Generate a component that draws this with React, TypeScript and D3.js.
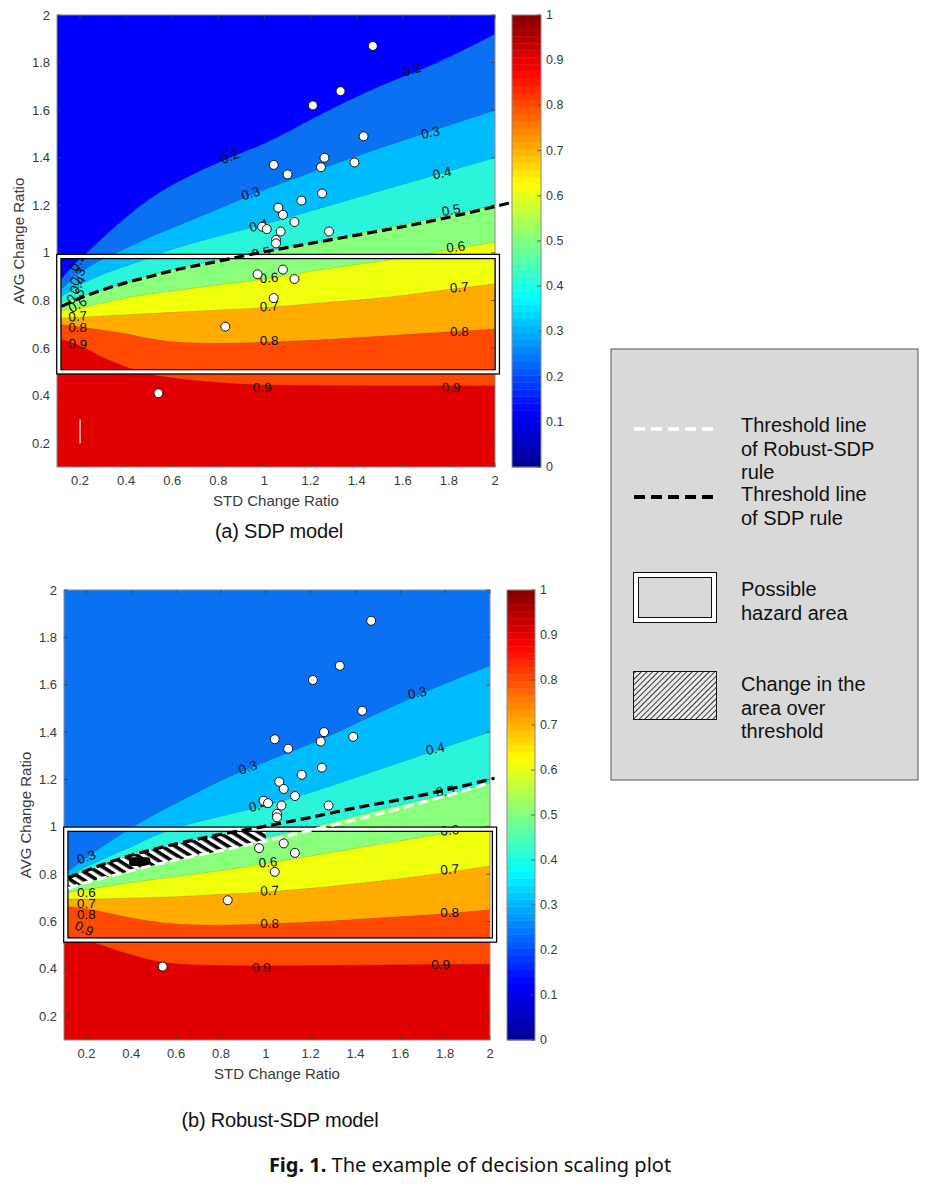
import React from 'react';
import * as d3 from 'd3';

type Pt = [number, number];

// ---- axes ----
const axisTicks = [0.2, 0.4, 0.6, 0.8, 1, 1.2, 1.4, 1.6, 1.8, 2];
const colorbarTicks = [0, 0.1, 0.2, 0.3, 0.4, 0.5, 0.6, 0.7, 0.8, 0.9, 1];

// jet colormap anchors (for the colorbar)
const jetStops = [0, 0.125, 0.375, 0.625, 0.875, 1];
const jetColors = ['#00008f', '#0000ff', '#00ffff', '#ffff00', '#ff0000', '#800000'];

// filled-contour band colours, band [level, level + 0.1]
const bandLevels = [0.1, 0.2, 0.3, 0.4, 0.5, 0.6, 0.7, 0.8, 0.9];
const bandColors = ['#0000ff', '#0a72f2', '#00bcff', '#2af5da', '#8aff7c', '#f0ff0a', '#ffab00', '#ff4800', '#e00000'];

// ---- (a) SDP model: contour boundaries ----
const sdpContours: [number, Pt[]][] = [
  [0.2, [[0.1, 0.87], [0.15, 0.925], [0.2, 0.975], [0.25, 1.02], [0.3, 1.065], [0.4, 1.15], [0.5, 1.225], [0.6, 1.285], [0.7, 1.335], [0.85, 1.4], [1.0, 1.46], [1.25, 1.585], [1.5, 1.7], [1.75, 1.8], [2.0, 1.92]]],
  [0.3, [[0.1, 0.83], [0.15, 0.875], [0.2, 0.915], [0.3, 0.975], [0.4, 1.02], [0.5, 1.065], [0.6, 1.105], [0.8, 1.185], [1.0, 1.265], [1.25, 1.355], [1.5, 1.44], [1.75, 1.52], [2.0, 1.6]]],
  [0.4, [[0.1, 0.805], [0.15, 0.835], [0.2, 0.865], [0.3, 0.91], [0.4, 0.945], [0.5, 0.98], [0.6, 1.015], [0.8, 1.07], [1.0, 1.12], [1.25, 1.19], [1.5, 1.26], [1.75, 1.33], [2.0, 1.4]]],
  [0.5, [[0.1, 0.785], [0.2, 0.815], [0.3, 0.845], [0.4, 0.875], [0.5, 0.905], [0.6, 0.93], [0.8, 0.97], [1.0, 1.005], [1.25, 1.05], [1.5, 1.1], [1.75, 1.15], [2.0, 1.2]]],
  [0.6, [[0.1, 0.755], [0.2, 0.77], [0.3, 0.79], [0.4, 0.81], [0.6, 0.84], [0.8, 0.865], [1.0, 0.89], [1.25, 0.93], [1.5, 0.965], [1.75, 1.005], [2.0, 1.045]]],
  [0.7, [[0.1, 0.725], [0.2, 0.73], [0.4, 0.74], [0.6, 0.75], [0.8, 0.76], [1.0, 0.77], [1.25, 0.79], [1.5, 0.81], [1.75, 0.84], [2.0, 0.87]]],
  [0.8, [[0.1, 0.7], [0.2, 0.69], [0.3, 0.675], [0.4, 0.66], [0.5, 0.64], [0.6, 0.627], [0.8, 0.62], [1.0, 0.625], [1.25, 0.635], [1.5, 0.65], [1.75, 0.665], [2.0, 0.68]]],
  [0.9, [[0.1, 0.64], [0.2, 0.61], [0.3, 0.56], [0.4, 0.52], [0.5, 0.49], [0.6, 0.475], [0.8, 0.455], [1.0, 0.445], [1.5, 0.442], [2.0, 0.442]]],
];

// ---- (b) Robust-SDP model ----
const robustContours: [number, Pt[]][] = [
  [0.3, [[0.1, 0.8], [0.15, 0.835], [0.2, 0.87], [0.3, 0.935], [0.4, 0.995], [0.5, 1.05], [0.6, 1.1], [0.8, 1.195], [1.0, 1.275], [1.25, 1.37], [1.5, 1.48], [1.75, 1.585], [2.0, 1.68]]],
  [0.4, [[0.1, 0.78], [0.2, 0.83], [0.3, 0.875], [0.4, 0.915], [0.5, 0.96], [0.6, 0.995], [0.8, 1.045], [1.0, 1.09], [1.25, 1.16], [1.5, 1.24], [1.75, 1.32], [2.0, 1.4]]],
  [0.5, [[0.1, 0.755], [0.2, 0.785], [0.4, 0.835], [0.6, 0.875], [0.8, 0.915], [1.0, 0.955], [1.25, 1.01], [1.5, 1.07], [1.75, 1.125], [2.0, 1.185]]],
  [0.6, [[0.1, 0.72], [0.2, 0.735], [0.4, 0.765], [0.6, 0.79], [0.8, 0.815], [1.0, 0.845], [1.25, 0.885], [1.5, 0.925], [1.75, 0.965], [2.0, 1.005]]],
  [0.7, [[0.1, 0.695], [0.2, 0.695], [0.4, 0.7], [0.6, 0.705], [0.8, 0.715], [1.0, 0.725], [1.25, 0.745], [1.5, 0.77], [1.75, 0.8], [2.0, 0.835]]],
  [0.8, [[0.1, 0.665], [0.2, 0.655], [0.3, 0.635], [0.4, 0.615], [0.5, 0.6], [0.6, 0.59], [0.8, 0.585], [1.0, 0.59], [1.25, 0.6], [1.5, 0.615], [1.75, 0.63], [2.0, 0.65]]],
  [0.9, [[0.1, 0.54], [0.2, 0.52], [0.3, 0.49], [0.4, 0.46], [0.5, 0.435], [0.6, 0.422], [0.8, 0.415], [1.0, 0.413], [1.5, 0.417], [2.0, 0.42]]],
];

// observed (STD ratio, AVG ratio) points, same in both panels
const climatePoints: Pt[] = [
  [1.47, 1.87], [1.33, 1.68], [1.21, 1.62], [1.43, 1.49], [1.26, 1.4], [1.04, 1.37], [1.245, 1.36],
  [1.39, 1.38], [1.1, 1.33], [1.25, 1.25], [1.16, 1.22], [1.06, 1.19], [1.08, 1.16], [1.13, 1.13],
  [0.99, 1.11], [1.01, 1.1], [1.07, 1.09], [1.28, 1.09], [1.05, 1.055], [1.05, 1.04], [0.97, 0.91],
  [1.08, 0.93], [1.13, 0.89], [1.04, 0.81], [0.83, 0.69], [0.54, 0.41],
];

// threshold lines
const sdpThresholdA: Pt[] = [[0.12, 0.775], [0.2, 0.81], [0.3, 0.845], [0.4, 0.875], [0.5, 0.9], [0.6, 0.925], [0.8, 0.965], [1.0, 1.005], [1.2, 1.04], [1.4, 1.075], [1.6, 1.11], [1.8, 1.15], [2.0, 1.195], [2.07, 1.212]];
const sdpThresholdB: Pt[] = [[0.12, 0.785], [0.2, 0.815], [0.3, 0.85], [0.4, 0.88], [0.5, 0.905], [0.6, 0.928], [0.8, 0.968], [1.0, 1.003], [1.2, 1.04], [1.4, 1.08], [1.6, 1.115], [1.8, 1.155], [2.02, 1.205]];
const robustThreshold: Pt[] = [[0.12, 0.74], [0.2, 0.765], [0.3, 0.79], [0.4, 0.815], [0.5, 0.838], [0.6, 0.86], [0.8, 0.9], [1.0, 0.94], [1.2, 0.985], [1.4, 1.03], [1.6, 1.078], [1.8, 1.13], [2.0, 1.185]];
const hatchLimit: [number, number] = [1.12, 1.06]; // x where hatching stops on black / white line
const blackBlob = [0.39, 0.485, 0.835, 0.872]; // x0, x1, y0, y1

// hazard boxes: x0, x1, y0, y1
const hazardA = [0.108, 2.01, 0.5, 0.985];
const hazardB = [0.108, 2.02, 0.522, 0.99];

// contour labels: text, x, y, rotation
type Lab = [string, number, number, number];
const sdpLabels: Lab[] = [
  ['0.2', 1.64, 1.77, -17], ['0.2', 0.85, 1.405, -22], ['0.3', 1.72, 1.505, -12], ['0.3', 0.94, 1.25, -17],
  ['0.4', 1.77, 1.335, -12], ['0.4', 0.975, 1.115, -15], ['0.5', 1.81, 1.18, -10], ['0.5', 0.985, 1.0, -10],
  ['0.6', 1.83, 1.025, -8], ['0.6', 1.02, 0.895, -5], ['0.7', 1.845, 0.855, -5], ['0.7', 1.02, 0.775, -3],
  ['0.8', 1.845, 0.67, 0], ['0.8', 1.02, 0.63, 0], ['0.9', 0.99, 0.435, 0], ['0.9', 1.81, 0.435, 0],
  ['0.2', 0.19, 0.96, -65], ['0.3', 0.19, 0.9, -60], ['0.4', 0.19, 0.865, -60], ['0.5', 0.18, 0.82, -40],
  ['0.6', 0.19, 0.782, -30], ['0.7', 0.19, 0.733, -5], ['0.8', 0.19, 0.688, 0], ['0.9', 0.19, 0.617, 5],
];
const robustLabels: Lab[] = [
  ['0.3', 1.676, 1.565, -12], ['0.3', 0.92, 1.25, -20], ['0.4', 1.756, 1.33, -12], ['0.4', 0.966, 1.09, -15],
  ['0.5', 1.8, 1.15, -8], ['0.6', 1.82, 0.985, -5], ['0.6', 1.01, 0.85, -5], ['0.7', 1.82, 0.82, -5],
  ['0.7', 1.017, 0.73, -3], ['0.8', 1.82, 0.638, 0], ['0.8', 1.017, 0.59, 0], ['0.9', 0.98, 0.405, 0],
  ['0.9', 1.78, 0.42, 0], ['0.3', 0.2, 0.872, -20], ['0.6', 0.2, 0.724, 0], ['0.7', 0.2, 0.678, 0],
  ['0.8', 0.2, 0.63, 0], ['0.9', 0.19, 0.57, 25],
];

const FONT = 'Liberation Sans, Arial, Helvetica, sans-serif';

interface Frame { left: number; top: number; right: number; bottom: number; cbarX: number; cbarW: number; }

interface PanelProps {
  id: string;
  frame: Frame;
  contours: [number, Pt[]][];
  labels: Lab[];
  blackLine: Pt[];
  whiteLine?: Pt[];
  hazard: number[];
  caption: string;
  captionY: number;
  yTitleX: number;
  artifact?: boolean;
}

function Panel({ id, frame, contours, labels, blackLine, whiteLine, hazard, caption, captionY, yTitleX, artifact }: PanelProps) {
  const x = d3.scaleLinear().domain([0.1, 2]).range([frame.left, frame.right]);
  const y = d3.scaleLinear().domain([0.1, 2]).range([frame.bottom, frame.top]);
  const cy = d3.scaleLinear().domain([0, 1]).range([frame.bottom, frame.top]);
  const jet = d3.scaleLinear<string>().domain(jetStops).range(jetColors).interpolate(d3.interpolateRgb);
  const bandColor = (lv: number) => bandColors[bandLevels.findIndex(b => Math.abs(b - lv) < 1e-6)];

  const area = d3.area<Pt>().x(d => x(d[0])).y0(y(0)).y1(d => y(d[1])).curve(d3.curveMonotoneX);
  const line = d3.line<Pt>().x(d => x(d[0])).y(d => y(d[1])).curve(d3.curveMonotoneX);

  const firstLevel = contours[0][0];
  const bgColor = bandColor(Math.round((firstLevel - 0.1) * 10) / 10);

  let hatchPath = '';
  if (whiteLine) {
    const top = blackLine.filter(p => p[0] <= hatchLimit[0]);
    const bot = whiteLine.filter(p => p[0] <= hatchLimit[1]).slice().reverse();
    hatchPath = (d3.line<Pt>().x(d => x(d[0])).y(d => y(d[1]))([...top, ...bot]) || '') + 'Z';
  }

  const cells = d3.range(64);
  const cellH = (frame.bottom - frame.top) / 64;
  const tickColor = '#444';
  const boxColor = '#8a8a8a';
  const textColor = '#3a3a3a';

  return (
    <g>
      <defs>
        <clipPath id={`clip-${id}`}>
          <rect x={frame.left} y={frame.top} width={frame.right - frame.left} height={frame.bottom - frame.top} />
        </clipPath>
        <pattern id={`stripes-${id}`} patternUnits="userSpaceOnUse" width={7} height={7} patternTransform="rotate(32)">
          <rect x={0} y={0} width={7} height={7} fill="#fff" />
          <rect x={0} y={0} width={7} height={3.6} fill="#000" />
        </pattern>
      </defs>
      <g clipPath={`url(#clip-${id})`}>
        <rect x={frame.left} y={frame.top} width={frame.right - frame.left} height={frame.bottom - frame.top} fill={bgColor} />
        {contours.map(([lv, pts]) => (
          <path key={`a${lv}`} d={area(pts) || ''} fill={bandColor(lv)} />
        ))}
        {contours.map(([lv, pts]) => (
          <path key={`l${lv}`} d={line(pts) || ''} fill="none" stroke="#222" strokeWidth={0.6} strokeDasharray="1 1.3" opacity={0.55} />
        ))}
        {labels.map(([t, lx, ly, rot], i) => (
          <text key={i} x={x(lx)} y={y(ly)} transform={`rotate(${rot},${x(lx)},${y(ly)})`} textAnchor="middle" dominantBaseline="central"
            fontFamily={FONT} fontSize={13.5} fill="#111">{t}</text>
        ))}
        {artifact && (
          <line x1={x(0.2)} x2={x(0.2)} y1={y(0.2)} y2={y(0.3)} stroke="#f4f4f4" strokeWidth={1.2} />
        )}
        {whiteLine && (
          <g>
            <path d={hatchPath} fill={`url(#stripes-${id})`} />
            <rect x={x(blackBlob[0])} y={y(blackBlob[3])} width={x(blackBlob[1]) - x(blackBlob[0])} height={y(blackBlob[2]) - y(blackBlob[3])} rx={3} fill="#000" />
          </g>
        )}
      </g>

      {/* axes box and ticks */}
      <rect x={frame.left} y={frame.top} width={frame.right - frame.left} height={frame.bottom - frame.top} fill="none" stroke={boxColor} strokeWidth={1} />
      {axisTicks.map(t => (
        <g key={`xt${t}`}>
          <line x1={x(t)} x2={x(t)} y1={frame.bottom} y2={frame.bottom - 4} stroke={tickColor} strokeWidth={0.8} />
          <line x1={x(t)} x2={x(t)} y1={frame.top} y2={frame.top + 4} stroke={tickColor} strokeWidth={0.8} />
          <text x={x(t)} y={frame.bottom + 18} textAnchor="middle" fontFamily={FONT} fontSize={13} fill={textColor}>{t}</text>
        </g>
      ))}
      {axisTicks.map(t => (
        <g key={`yt${t}`}>
          <line x1={frame.left} x2={frame.left + 4} y1={y(t)} y2={y(t)} stroke={tickColor} strokeWidth={0.8} />
          <line x1={frame.right} x2={frame.right - 4} y1={y(t)} y2={y(t)} stroke={tickColor} strokeWidth={0.8} />
          <text x={frame.left - 7} y={y(t)} textAnchor="end" dominantBaseline="central" fontFamily={FONT} fontSize={13} fill={textColor}>{t}</text>
        </g>
      ))}
      <text x={(frame.left + frame.right) / 2} y={frame.bottom + 39} textAnchor="middle" fontFamily={FONT} fontSize={15} fill={textColor}>STD Change Ratio</text>
      <text transform={`translate(${yTitleX},${(frame.top + frame.bottom) / 2}) rotate(-90)`} textAnchor="middle" dominantBaseline="central"
        fontFamily={FONT} fontSize={15} fill={textColor}>AVG Change Ratio</text>

      {/* hazard box: black / white / black double frame */}
      <rect x={x(hazard[0])} y={y(hazard[3])} width={x(hazard[1]) - x(hazard[0])} height={y(hazard[2]) - y(hazard[3])} fill="none" stroke="#000" strokeWidth={5.5} />
      <rect x={x(hazard[0])} y={y(hazard[3])} width={x(hazard[1]) - x(hazard[0])} height={y(hazard[2]) - y(hazard[3])} fill="none" stroke="#fff" strokeWidth={3} />

      {/* threshold lines */}
      <path d={line(blackLine) || ''} fill="none" stroke="#000" strokeWidth={3.2} strokeDasharray="10 5" />
      {whiteLine && <path d={line(whiteLine) || ''} fill="none" stroke="#fff" strokeWidth={3} strokeDasharray="10 5" />}

      {/* observed points */}
      {climatePoints.map((p, i) => (
        <circle key={i} cx={x(p[0])} cy={y(p[1])} r={4.5} fill="#fff" stroke="#111" strokeWidth={1} />
      ))}

      {/* colorbar */}
      {cells.map(i => (
        <rect key={i} x={frame.cbarX} y={cy((i + 1) / 64)} width={frame.cbarW} height={cellH + 0.4} fill={jet((i + 0.5) / 64)} />
      ))}
      <rect x={frame.cbarX} y={frame.top} width={frame.cbarW} height={frame.bottom - frame.top} fill="none" stroke={boxColor} strokeWidth={1} />
      {colorbarTicks.map(t => (
        <g key={`ct${t}`}>
          <line x1={frame.cbarX + frame.cbarW} x2={frame.cbarX + frame.cbarW - 4} y1={cy(t)} y2={cy(t)} stroke={tickColor} strokeWidth={0.8} />
          <text x={frame.cbarX + frame.cbarW + 5} y={cy(t)} dominantBaseline="central" fontFamily={FONT} fontSize={12.5} fill={textColor}>{t}</text>
        </g>
      ))}

      <text x={(frame.left + frame.right) / 2 + 3} y={captionY} textAnchor="middle" fontFamily={FONT} fontSize={20} fill="#111" letterSpacing={-0.2}>{caption}</text>
    </g>
  );
}

function Legend() {
  const lx = 611, ly = 349, lw = 307, lh = 431;
  const tx = 741;
  const tStyle = { fontFamily: FONT, fontSize: 20, fill: '#111' } as const;
  return (
    <g>
      <defs>
        <pattern id="legend-hatch" patternUnits="userSpaceOnUse" width={4} height={4} patternTransform="rotate(-45)">
          <rect x={0} y={0} width={4} height={4} fill="#ececec" />
          <line x1={0} y1={0.5} x2={4} y2={0.5} stroke="#222" strokeWidth={0.9} />
        </pattern>
      </defs>
      <rect x={lx} y={ly} width={lw} height={lh} fill="#d9d9d9" stroke="#555" strokeWidth={1} />
      <line x1={634} x2={714} y1={429} y2={429} stroke="#fff" strokeWidth={3.5} strokeDasharray="11 6" />
      <text x={tx} y={432} {...tStyle}>Threshold line</text>
      <text x={tx} y={456} {...tStyle}>of Robust-SDP</text>
      <text x={tx} y={479} {...tStyle}>rule</text>
      <line x1={634} x2={714} y1={497} y2={497} stroke="#000" strokeWidth={4} strokeDasharray="11 6" />
      <text x={tx} y={501} {...tStyle}>Threshold line</text>
      <text x={tx} y={525} {...tStyle}>of SDP rule</text>
      <rect x={633.5} y={572.5} width={83} height={50} fill="#fff" stroke="#111" strokeWidth={1} />
      <rect x={638.5} y={577.5} width={73} height={40} fill="#d9d9d9" stroke="#111" strokeWidth={1} />
      <text x={tx} y={596} {...tStyle}>Possible</text>
      <text x={tx} y={620} {...tStyle}>hazard area</text>
      <rect x={633.5} y={671.5} width={83} height={48} fill="url(#legend-hatch)" stroke="#111" strokeWidth={1} />
      <text x={tx} y={691} {...tStyle}>Change in the</text>
      <text x={tx} y={715} {...tStyle}>area over</text>
      <text x={tx} y={738} {...tStyle}>threshold</text>
    </g>
  );
}

const frameA: Frame = { left: 57, top: 15, right: 495, bottom: 467, cbarX: 512, cbarW: 29 };
const frameB: Frame = { left: 64, top: 590, right: 490, bottom: 1040, cbarX: 507, cbarW: 28 };

export default function App() {
  return (
    <div style={{ position: 'absolute', left: 0, top: 0, background: '#fff' }}>
      <svg width={939} height={1186} style={{ display: 'block' }}>
        <rect width={939} height={1186} fill="#fff" />
        <Panel id="a" frame={frameA} contours={sdpContours} labels={sdpLabels} blackLine={sdpThresholdA}
          hazard={hazardA} caption="(a) SDP model" captionY={538} yTitleX={18} artifact />
        <Panel id="b" frame={frameB} contours={robustContours} labels={robustLabels} blackLine={sdpThresholdB}
          whiteLine={robustThreshold} hazard={hazardB} caption="(b) Robust-SDP model" captionY={1127} yTitleX={25} />
        <Legend />
        <text x={470} y={1172} textAnchor="middle" fontFamily="Noto Sans, Open Sans, sans-serif" fontSize={20} fill="#111">
          <tspan fontWeight="bold">Fig. 1.</tspan> The example of decision scaling plot
        </text>
      </svg>
    </div>
  );
}
